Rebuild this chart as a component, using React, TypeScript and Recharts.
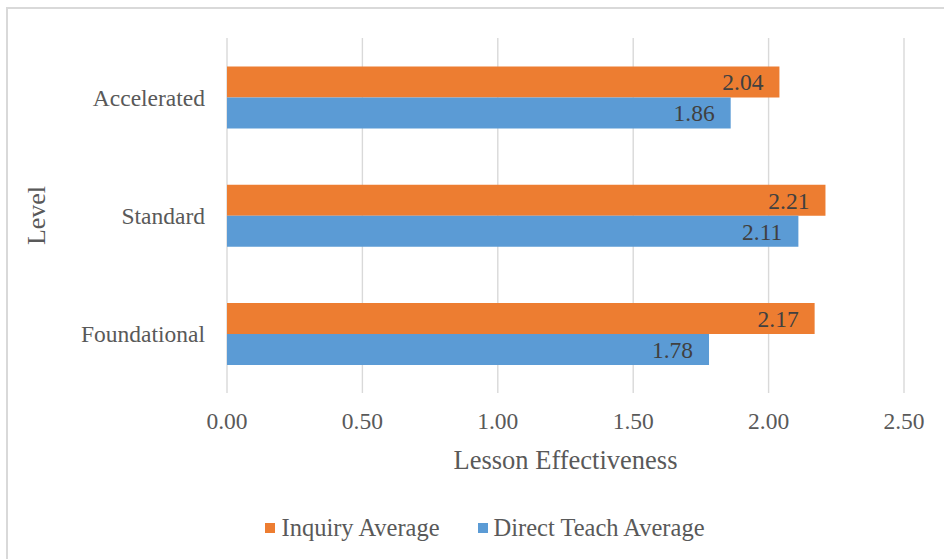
import { BarChart, Bar, XAxis, YAxis, CartesianGrid, Legend, LabelList } from 'recharts';

const levels = ['Accelerated', 'Standard', 'Foundational'];
const inquiryAvg = [2.04, 2.21, 2.17];
const directTeachAvg = [1.86, 2.11, 1.78];
const xTicks = [0, 0.5, 1, 1.5, 2, 2.5];

const ORANGE = '#ED7D31';
const BLUE = '#5B9BD5';
const FONT = '"Liberation Serif", "Times New Roman", serif';

const seriesInfo = [
  { key: 'inquiry', name: 'Inquiry Average', color: ORANGE },
  { key: 'direct', name: 'Direct Teach Average', color: BLUE },
];

const data = levels.map((level, i) => ({
  level,
  inquiry: inquiryAvg[i],
  direct: directTeachAvg[i],
}));

function LegendBox() {
  return (
    <div style={{ height: 66, boxSizing: 'border-box', display: 'flex', justifyContent: 'center', alignItems: 'center', paddingLeft: 66, paddingTop: 4, fontFamily: FONT, fontSize: 24.5, color: '#595959' }}>
      {seriesInfo.map((s, i) => (
        <span key={s.key} style={{ display: 'flex', alignItems: 'center', marginLeft: i ? 38 : 0 }}>
          <span style={{ width: 10, height: 10, background: s.color, marginRight: 6, display: 'inline-block' }} />
          {s.name}
        </span>
      ))}
    </div>
  );
}

export default function App() {
  return (
    <div style={{ position: 'absolute', left: 0, top: 0, width: 944, height: 559, overflow: 'hidden', background: '#fff' }}>
      <div style={{ position: 'absolute', left: 6, top: 7, width: 960, height: 580, borderLeft: '2px solid #d9d9d9', borderTop: '2px solid #d9d9d9' }} />
      <BarChart
        width={944}
        height={559}
        data={data}
        layout="vertical"
        margin={{ top: 38, right: 40, left: 0, bottom: 0 }}
        barCategoryGap="24%"
        barGap={0}
        style={{ position: 'absolute', left: 0, top: 0, fontFamily: FONT }}
      >
        <CartesianGrid horizontal={false} vertical={true} stroke="#d9d9d9" strokeWidth={1.4} />
        <XAxis
          type="number"
          domain={[0, 2.5]}
          ticks={xTicks}
          tickFormatter={(v: number) => v.toFixed(2)}
          axisLine={false}
          tickLine={false}
          tickSize={0}
          tickMargin={19}
          height={100}
          tick={{ fill: '#595959', fontSize: 23.5, fontFamily: FONT }}
          label={{ value: 'Lesson Effectiveness', position: 'insideBottom', offset: 24, fill: '#595959', fontSize: 26.5, fontFamily: FONT }}
        />
        <YAxis
          type="category"
          dataKey="level"
          width={227}
          axisLine={false}
          tickLine={false}
          tickSize={0}
          tickMargin={22}
          tick={{ fill: '#595959', fontSize: 23.5, fontFamily: FONT }}
          label={{ value: 'Level', angle: -90, position: 'insideLeft', offset: 36, fill: '#595959', fontSize: 26, fontFamily: FONT, style: { textAnchor: 'middle' } }}
        />
        <Legend verticalAlign="bottom" height={66} content={<LegendBox />} />
        {seriesInfo.map((s) => (
          <Bar key={s.key} dataKey={s.key} name={s.name} fill={s.color} isAnimationActive={false}>
            <LabelList dataKey={s.key} position="insideRight" offset={16} fill="#404040" fontSize={23.5} fontFamily={FONT} formatter={(v: number) => v.toFixed(2)} />
          </Bar>
        ))}
      </BarChart>
    </div>
  );
}
